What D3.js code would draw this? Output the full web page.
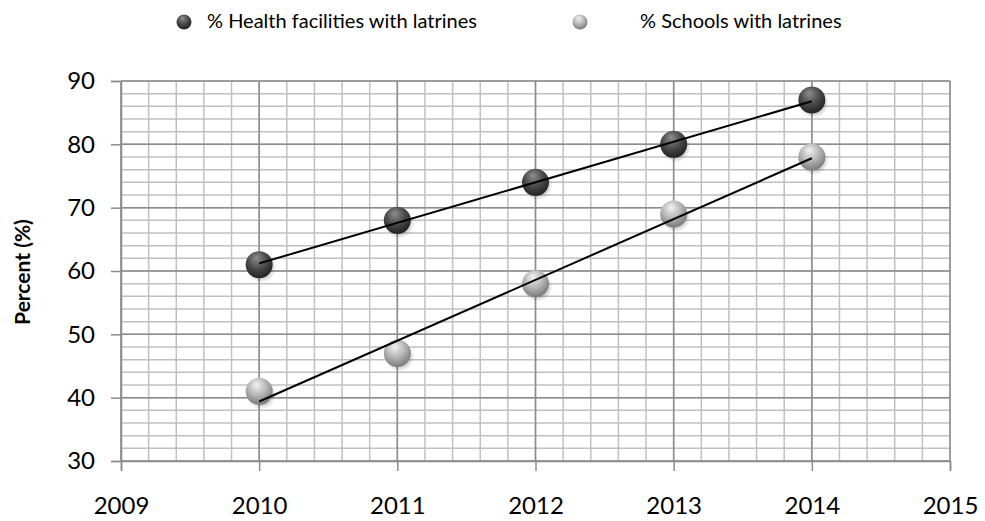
<html lang="en">
<head>
<meta charset="utf-8">
<title>Latrines</title>
<script src="https://d3js.org/d3.v7.min.js"></script>
<style>
  body { margin: 0; background: #fff; }
  text { font-family: Lato, "Open Sans", sans-serif; fill: #000; }
</style>
</head>
<body>
<svg width="985" height="521"></svg>
<script>
var years = [2010, 2011, 2012, 2013, 2014];
var health = [61, 68, 74, 80, 87];
var schools = [41, 47, 58, 69, 78];
var seriesNames = ["% Health facilities with latrines", "% Schools with latrines"];
var xTicks = [2009, 2010, 2011, 2012, 2013, 2014, 2015];
var yTicks = [30, 40, 50, 60, 70, 80, 90];

var svg = d3.select("svg");
var plotLeft = 121, plotRight = 950, plotTop = 81, plotBottom = 461;

var x = d3.scaleLinear().domain([2009, 2015]).range([plotLeft, plotRight]);
var y = d3.scaleLinear().domain([30, 90]).range([plotBottom, plotTop]);

// gradients for the 3D balls
var defs = svg.append("defs");
function ball(id, c0, c1, c2) {
  var g = defs.append("radialGradient").attr("id", id)
    .attr("cx", "45%").attr("cy", "35%").attr("r", "65%").attr("fx", "40%").attr("fy", "25%");
  g.append("stop").attr("offset", "0%").attr("stop-color", c0);
  g.append("stop").attr("offset", "55%").attr("stop-color", c1);
  g.append("stop").attr("offset", "100%").attr("stop-color", c2);
}
ball("darkBall", "#8e8e8e", "#4a4a4a", "#222");
ball("lightBall", "#f2f2f2", "#b4b4b4", "#7a7a7a");
var sh = defs.append("radialGradient").attr("id", "shadow");
sh.append("stop").attr("offset", "60%").attr("stop-color", "#000").attr("stop-opacity", 0.25);
sh.append("stop").attr("offset", "100%").attr("stop-color", "#000").attr("stop-opacity", 0);

// minor grid
var minorX = d3.range(2009, 2015.001, 0.2);
var minorY = d3.range(30, 90.001, 2);
svg.append("g").selectAll("line").data(minorY).enter().append("line")
  .attr("x1", plotLeft).attr("x2", plotRight)
  .attr("y1", function(d) { return y(d); }).attr("y2", function(d) { return y(d); })
  .attr("stroke", "#c0c0c0").attr("stroke-width", 1.5);
svg.append("g").selectAll("line").data(minorX).enter().append("line")
  .attr("y1", plotTop).attr("y2", plotBottom)
  .attr("x1", function(d) { return x(d); }).attr("x2", function(d) { return x(d); })
  .attr("stroke", "#c0c0c0").attr("stroke-width", 1.5);

// major grid
svg.append("g").selectAll("line").data(yTicks).enter().append("line")
  .attr("x1", plotLeft).attr("x2", plotRight)
  .attr("y1", function(d) { return y(d); }).attr("y2", function(d) { return y(d); })
  .attr("stroke", "#8c8c8c").attr("stroke-width", 1.5);
svg.append("g").selectAll("line").data(xTicks).enter().append("line")
  .attr("y1", plotTop).attr("y2", plotBottom)
  .attr("x1", function(d) { return x(d); }).attr("x2", function(d) { return x(d); })
  .attr("stroke", "#8c8c8c").attr("stroke-width", 1.5);

// axes
var yAxis = svg.append("g").attr("transform", "translate(" + plotLeft + ",0)")
  .call(d3.axisLeft(y).tickValues(yTicks).tickSize(10).tickPadding(16));
var xAxis = svg.append("g").attr("transform", "translate(0," + plotBottom + ")")
  .call(d3.axisBottom(x).tickValues(xTicks).tickFormat(d3.format("d")).tickSize(10).tickPadding(26));
[yAxis, xAxis].forEach(function(a) {
  a.select(".domain").attr("stroke", "#8c8c8c").attr("stroke-width", 1.5);
  a.selectAll(".tick line").attr("stroke", "#8c8c8c").attr("stroke-width", 1.5);
  a.selectAll("text").style("font-size", "24px").style("font-family", "Lato, sans-serif").attr("fill", "#000");
});

svg.append("text")
  .attr("transform", "translate(30,272) rotate(-90)")
  .attr("text-anchor", "middle")
  .style("font-size", "21px").style("font-weight", "bold")
  .text("Percent (%)");

// trendlines (least squares)
function trend(vals) {
  var mx = d3.mean(years), my = d3.mean(vals);
  var num = d3.sum(years, function(d, i) { return (d - mx) * (vals[i] - my); });
  var den = d3.sum(years, function(d) { return (d - mx) * (d - mx); });
  var b = num / den, a = my - b * mx;
  var x0 = years[0], x1 = years[years.length - 1];
  return [[x0, a + b * x0], [x1, a + b * x1]];
}
var line = d3.line().x(function(d) { return x(d[0]); }).y(function(d) { return y(d[1]); });

var series = [
  { name: seriesNames[0], vals: health, fill: "url(#darkBall)" },
  { name: seriesNames[1], vals: schools, fill: "url(#lightBall)" }
];

function drawBall(g, cx, cy, fill) {
  g.append("ellipse").attr("cx", cx + 2).attr("cy", cy + 3).attr("rx", 15).attr("ry", 15)
    .attr("fill", "url(#shadow)");
  g.append("circle").attr("cx", cx).attr("cy", cy).attr("r", 13.5).attr("fill", fill);
}

series.forEach(function(s) {
  var g = svg.append("g");
  years.forEach(function(yr, i) { drawBall(g, x(yr), y(s.vals[i]), s.fill); });
});
series.forEach(function(s) {
  svg.append("path").attr("d", line(trend(s.vals)))
    .attr("fill", "none").attr("stroke", "#000").attr("stroke-width", 2);
});

// legend
var legendPos = [[184, 207], [580, 640]];
series.forEach(function(s, i) {
  var g = svg.append("g");
  g.append("circle").attr("cx", legendPos[i][0]).attr("cy", 22).attr("r", 7.5).attr("fill", s.fill);
  g.append("text").attr("x", legendPos[i][1]).attr("y", 28)
    .style("font-size", "20px").text(s.name);
});
</script>
</body>
</html>
